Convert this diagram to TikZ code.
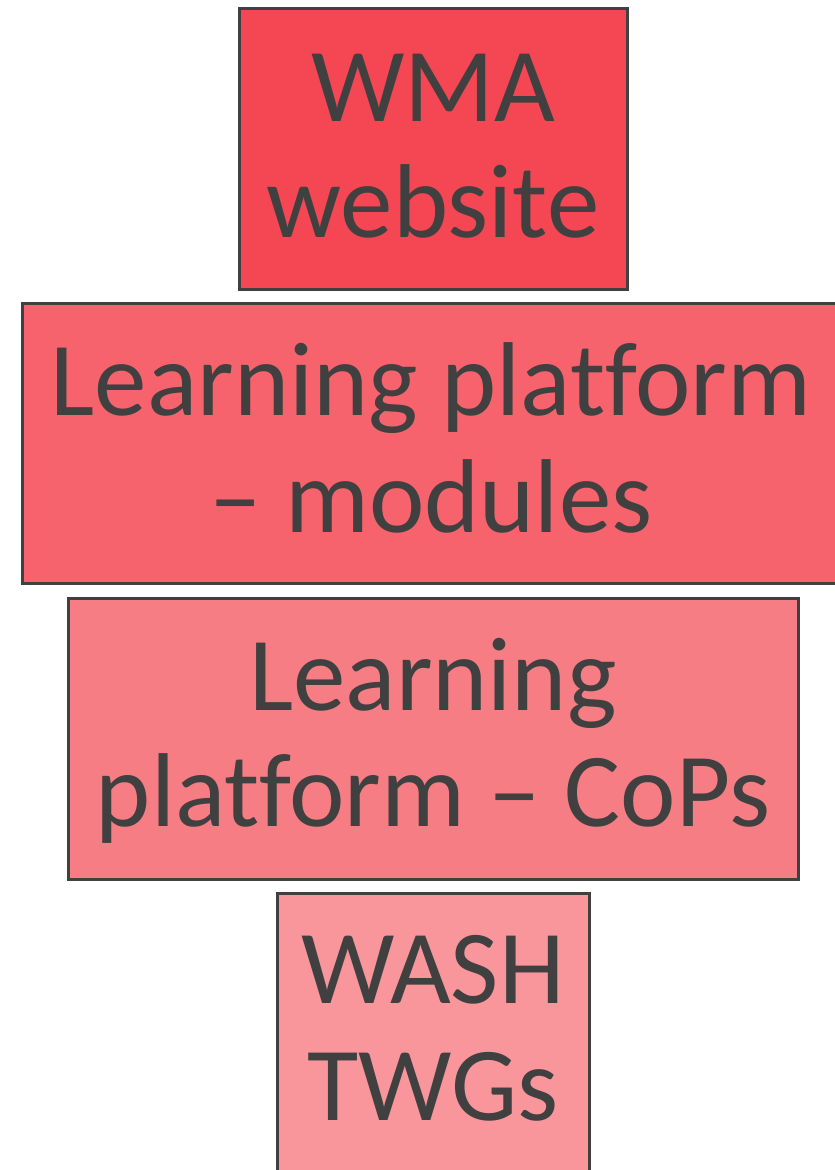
\documentclass[tikz,border=0pt]{standalone}
\usepackage{fontspec}
\setmainfont{Carlito}[Ligatures={NoCommon}]
\definecolor{txtgray}{HTML}{404040}
\definecolor{fillA}{HTML}{F44653}
\definecolor{fillB}{HTML}{F6636D}
\definecolor{fillC}{HTML}{F67D83}
\definecolor{fillD}{HTML}{F8969C}
\tikzset{
  box/.style={draw=txtgray, line width=3pt, inner sep=0pt, outer sep=0pt},
  line/.style={anchor=base, inner sep=0pt, text=txtgray, font=\fontsize{105}{116}\selectfont}
}
\begin{document}
\begin{tikzpicture}[x=1pt,y=-1pt]
\useasboundingbox (0,0) rectangle (835,1170);
% boxes
\node[box, fill=fillA, minimum width=388pt, minimum height=281pt] (b1) at (433,148.5) {};
\node[box, fill=fillB, minimum width=818pt, minimum height=280pt] (b2) at (431,443) {};
\node[box, fill=fillC, minimum width=730pt, minimum height=281pt] (b3) at (433,738.5) {};
\node[box, fill=fillD, minimum width=312pt, minimum height=300pt] (b4) at (433,1043) {};
% texts
\node[line] (t1a) at (433,121) {WMA};
\node[line] (t1b) at (433,237) {website};
\node[line] (t2a) at (431,415) {Learning platform};
\node[line] (t2b) at (431,532) {– modules};
\node[line] (t3a) at (433,710) {Learning};
\node[line] (t3b) at (433,826) {platform – CoPs};
\node[line] (t4a) at (433,1003) {WASH};
\node[line] (t4b) at (433,1120) {TWGs};
\end{tikzpicture}
\end{document}
